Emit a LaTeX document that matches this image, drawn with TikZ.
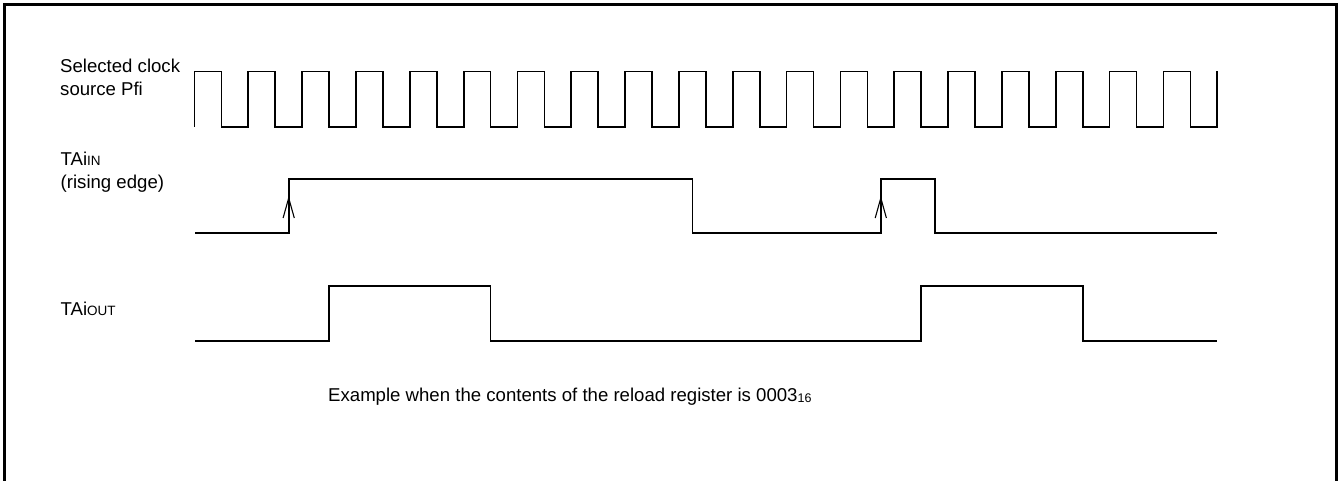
\documentclass[tikz,border=0pt]{standalone}
\usepackage{fontspec}
\setmainfont{Liberation Sans}
\usetikzlibrary{calc}
\begin{document}
\begin{tikzpicture}[x=1pt,y=-1pt,
  sig/.style={line width=1.7pt,line join=miter},
  edgearrow/.style={line width=1.1pt},
  lbl/.style={anchor=base west,inner sep=0pt,font=\fontsize{18.6}{23}\selectfont,align=left},
  frame/.style={line width=2.7pt}]
\useasboundingbox (0,0) rectangle (1338,481);
\draw[frame] (4.7,4.7) rectangle (1336.3,482.5);
% labels
\node[lbl] (clk) at (60,95.5) {Selected clock\\source Pfi};
\node[lbl] (tin) at (60.5,188.3) {TAi{\fontsize{13.5}{13.5}\selectfont IN}\\(rising edge)};
\node[lbl] (tout) at (60.5,315) {TAi{\fontsize{13.5}{13.5}\selectfont OUT}};
\node[lbl] (note) at (328,401) {Example when the contents of the reload register is 0003\raisebox{-1.5pt}{\fontsize{12.5}{12.5}\selectfont 16}};
% clock
\draw[sig] (194.5,126.7) \foreach \k in {0,...,18} { -- ++(0,-55.2) -- ++(26.915,0) -- ++(0,55.2) -- ++(26.915,0) } -- ++(0,-55.2);
% TAiIN
\draw[sig] (195,233.3) -- (288.7,233.3) -- (288.7,179.3) -- (692.4,179.3) -- (692.4,233.3)
  -- (880.8,233.3) -- (880.8,179.3) -- (934.7,179.3) -- (934.7,233.3) -- (1217.3,233.3);
\coordinate (a1) at (288.7,198);
\coordinate (a2) at (880.8,198);
\draw[edgearrow] ($(a1)+(-5.6,20)$) -- (a1) -- ($(a1)+(5.6,20)$);
\draw[edgearrow] ($(a2)+(-5.6,20)$) -- (a2) -- ($(a2)+(5.6,20)$);
% TAiOUT
\draw[sig] (195,340.7) -- (329.1,340.7) -- (329.1,286) -- (490.6,286) -- (490.6,340.7)
  -- (921.2,340.7) -- (921.2,286) -- (1082.7,286) -- (1082.7,340.7) -- (1217.3,340.7);
\end{tikzpicture}
\end{document}
